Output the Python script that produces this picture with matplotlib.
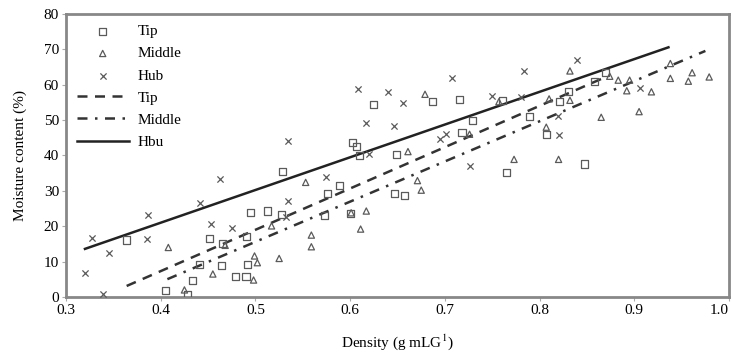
"""
moisture content vs density, tip / middle / hub
"""
import numpy as np
import matplotlib
matplotlib.use("Agg")
import matplotlib.pyplot as plt

# data
tip_x = [0.364, 0.405, 0.428, 0.434, 0.441, 0.451, 0.464, 0.465, 0.479, 0.490, 0.492, 0.491,
         0.495, 0.513, 0.527, 0.529, 0.573, 0.576, 0.589, 0.600, 0.602, 0.607, 0.610, 0.625,
         0.647, 0.657, 0.649, 0.687, 0.715, 0.718, 0.729, 0.761, 0.765, 0.789, 0.807, 0.821,
         0.830, 0.847, 0.858, 0.870]
tip_y = [16.1, 1.8, 0.8, 4.6, 9.3, 16.5, 8.8, 15.0, 5.7, 5.9, 9.3, 17.0,
         24.0, 24.3, 23.4, 35.6, 23.0, 29.3, 31.6, 23.6, 43.6, 42.5, 40.1, 54.4,
         29.3, 28.6, 40.4, 55.2, 55.9, 46.5, 50.0, 55.6, 35.1, 51.1, 46.0, 55.2,
         58.0, 37.6, 60.8, 63.4]

mid_x = [0.408, 0.425, 0.455, 0.468, 0.498, 0.499, 0.502, 0.517, 0.525, 0.553, 0.559, 0.559,
         0.601, 0.611, 0.617, 0.661, 0.671, 0.675, 0.679, 0.726, 0.757, 0.773, 0.807, 0.810,
         0.820, 0.832, 0.832, 0.865, 0.874, 0.883, 0.892, 0.895, 0.905, 0.918, 0.938, 0.938,
         0.957, 0.961, 0.979]
mid_y = [14.0, 2.0, 6.5, 14.6, 4.8, 11.6, 9.7, 20.1, 10.9, 32.4, 17.5, 14.2,
         23.8, 19.2, 24.3, 41.1, 32.9, 30.2, 57.3, 46.0, 55.2, 38.9, 48.0, 56.0,
         38.9, 55.6, 63.9, 50.8, 62.4, 61.3, 58.3, 61.3, 52.4, 58.0, 66.0, 61.8,
         61.0, 63.4, 62.2]

hub_x = [0.320, 0.327, 0.339, 0.345, 0.386, 0.387, 0.441, 0.453, 0.463, 0.475, 0.532, 0.534,
         0.534, 0.574, 0.608, 0.617, 0.620, 0.640, 0.646, 0.656, 0.695, 0.701, 0.708, 0.726,
         0.750, 0.780, 0.783, 0.819, 0.820, 0.839, 0.906]
hub_y = [6.7, 16.6, 0.8, 12.5, 16.3, 23.2, 26.6, 20.6, 33.4, 19.4, 22.7, 27.2,
         44.2, 34.0, 58.7, 49.1, 40.3, 57.9, 48.3, 54.7, 44.8, 46.2, 61.8, 37.0,
         56.8, 56.4, 63.9, 51.1, 45.8, 67.0, 59.2]

# fitted lines as drawn in the picture: slope, intercept and x span
tip_fit = (116.8, -39.4)
mid_fit = (113.6, -41.2)
hub_fit = (92.5, -16.0)
tip_span = (0.364, 0.870)
mid_span = (0.407, 0.975)
hub_span = (0.320, 0.936)

plt.rcParams['font.family'] = ['Liberation Serif', 'DejaVu Serif']
plt.rcParams['mathtext.fontset'] = 'stix'
plt.rcParams['font.size'] = 11

fig = plt.figure(figsize=(7.32, 3.55), dpi=100)
ax = fig.add_axes([0.0902, 0.1634, 0.9058, 0.7972])

mcol = '#5a5a5a'
ax.scatter(tip_x, tip_y, marker='s', s=26, facecolors='none', edgecolors=mcol,
           linewidths=0.9, label='Tip', zorder=3)
ax.scatter(mid_x, mid_y, marker='^', s=20, facecolors='none', edgecolors=mcol,
           linewidths=0.9, label='Middle', zorder=3)
ax.scatter(hub_x, hub_y, marker='x', s=20, color=mcol, linewidths=0.9,
           label='Hub', zorder=3)


def fit_line(span, fit):
    xx = np.array(span)
    return xx, fit[0] * xx + fit[1]


xx, yy = fit_line(tip_span, tip_fit)
ax.plot(xx, yy, color='#333333', lw=1.8, dashes=(4, 3), label='Tip')
xx, yy = fit_line(mid_span, mid_fit)
ax.plot(xx, yy, color='#333333', lw=1.8, dashes=(4, 3, 1, 3), label='Middle')
xx, yy = fit_line(hub_span, hub_fit)
ax.plot(xx, yy, color='#222222', lw=1.8, label='Hbu')

ax.set_xlim(0.3, 1.0)
ax.set_ylim(0, 80)
ax.set_xticks(np.arange(0.3, 1.01, 0.1))
ax.set_xticklabels(['0.3', '0.4', '0.5', '0.6', '0.7', '0.8', '0.9', '1.0'])
ax.get_xticklabels()[-1].set_horizontalalignment('right')
ax.set_yticks(range(0, 81, 10))
ax.tick_params(length=3, color='#aaaaaa', pad=2)
for sp in ax.spines.values():
    sp.set_color('#888888')
    sp.set_linewidth(2)

ax.set_xlabel('Density (g mLG$^{1}$)', labelpad=11)
ax.set_ylabel('Moisture content (%)', labelpad=12)

ax.legend(loc='upper left', bbox_to_anchor=(0.0, 1.0), frameon=False, numpoints=1,
          scatterpoints=1, handlelength=3.4, labelspacing=0.55, handletextpad=0.6,
          borderaxespad=0.3)

fig.savefig('out.png', dpi=100)
